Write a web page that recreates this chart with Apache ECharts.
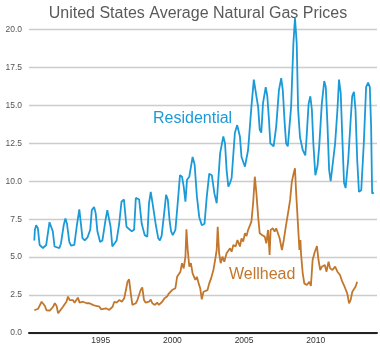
<!DOCTYPE html>
<html>
<head>
<meta charset="utf-8">
<script src="https://cdn.jsdelivr.net/npm/echarts@6/dist/echarts.min.js"></script>
<style>
  html, body { margin: 0; padding: 0; background: #ffffff; }
  #main { width: 380px; height: 350px; }
</style>
</head>
<body>
<div id="main"></div>
<script>
// [year, $ per thousand cubic feet]
const residential = [
  [1990.37, 6.1], [1990.41, 6.8], [1990.50, 7.1], [1990.62, 6.9], [1990.74, 5.8], [1990.97, 5.6],
  [1991.20, 5.8], [1991.43, 7.3], [1991.54, 7.4], [1991.66, 6.7], [1991.78, 5.7], [1991.89, 5.6],
  [1992.12, 5.6], [1992.23, 5.9], [1992.42, 7.1], [1992.54, 7.55], [1992.65, 7.2], [1992.81, 6.0], [1992.93, 5.75],
  [1993.16, 5.8], [1993.34, 7.1], [1993.51, 8.15], [1993.62, 8.1], [1993.73, 6.25], [1993.89, 6.1],
  [1994.08, 6.3], [1994.27, 6.8], [1994.38, 8.1], [1994.54, 8.3], [1994.65, 7.9], [1994.77, 6.7], [1994.96, 6.0],
  [1995.12, 6.1], [1995.33, 7.4], [1995.46, 8.1], [1995.58, 8.15], [1995.69, 7.0], [1995.81, 5.7], [1995.93, 5.6],
  [1996.11, 6.1], [1996.29, 7.2], [1996.45, 8.65], [1996.62, 8.8], [1996.80, 7.0], [1996.98, 6.85],
  [1997.17, 6.7], [1997.33, 6.8], [1997.45, 8.9], [1997.57, 9.0], [1997.68, 8.8], [1997.86, 7.2],
  [1998.07, 6.45], [1998.25, 6.35], [1998.37, 8.55], [1998.49, 9.3], [1998.60, 8.65], [1998.83, 7.2],
  [1999.01, 6.25], [1999.13, 6.1], [1999.25, 6.4], [1999.45, 8.1], [1999.56, 9.1], [1999.68, 8.8], [1999.80, 7.45], [1999.91, 6.7],
  [2000.03, 6.45], [2000.21, 6.8], [2000.37, 8.55], [2000.53, 10.4], [2000.67, 10.3], [2000.79, 9.65], [2000.91, 8.65],
  [2001.02, 10.1], [2001.18, 10.3], [2001.41, 11.6], [2001.55, 11.1], [2001.71, 9.0], [2001.87, 7.65],
  [2002.05, 7.1], [2002.24, 7.2], [2002.40, 9.0], [2002.57, 10.5], [2002.75, 10.4], [2002.93, 9.2],
  [2003.09, 8.55], [2003.33, 11.85], [2003.55, 12.95], [2003.67, 12.5], [2003.78, 10.75], [2003.90, 9.65],
  [2004.02, 9.9], [2004.13, 10.2], [2004.36, 13.2], [2004.52, 13.7], [2004.71, 12.95], [2004.82, 11.6],
  [2005.06, 10.96], [2005.17, 10.96], [2005.28, 12.06], [2005.51, 14.9], [2005.68, 16.7], [2005.86, 15.6], [2005.98, 14.9],
  [2006.09, 13.4], [2006.20, 13.2], [2006.32, 15.15], [2006.51, 16.2], [2006.62, 15.6], [2006.74, 14.0], [2006.83, 12.5], [2006.96, 12.6],
  [2007.06, 12.3], [2007.24, 13.6], [2007.43, 16.0], [2007.59, 16.8], [2007.70, 16.0], [2007.82, 14.0], [2007.93, 12.5],
  [2008.05, 12.3], [2008.28, 14.9], [2008.44, 19.1], [2008.55, 20.75], [2008.67, 19.1], [2008.77, 14.7], [2008.90, 12.9],
  [2009.09, 12.06], [2009.27, 11.7], [2009.36, 12.9], [2009.50, 15.1], [2009.62, 15.6], [2009.73, 14.7], [2009.83, 12.5], [2009.97, 10.4],
  [2010.12, 11.0], [2010.24, 12.3], [2010.42, 15.1], [2010.59, 16.6], [2010.70, 16.2], [2010.82, 13.6], [2010.93, 10.75],
  [2011.04, 10.0], [2011.16, 10.1], [2011.35, 12.5], [2011.51, 14.7], [2011.62, 16.7], [2011.74, 15.8], [2011.85, 12.9], [2011.97, 9.9],
  [2012.08, 9.55], [2012.27, 11.5], [2012.43, 14.0], [2012.54, 15.6], [2012.66, 15.9], [2012.77, 14.7], [2012.89, 11.4],
  [2013.01, 9.3], [2013.17, 9.4], [2013.35, 12.5], [2013.51, 16.2], [2013.65, 16.5], [2013.77, 16.2], [2013.86, 13.6], [2013.93, 9.2],
  [2014.05, 9.25]
];

const wellhead = [
  [1990.37, 1.5], [1990.64, 1.6], [1990.88, 2.06], [1990.99, 2.06], [1991.11, 1.78], [1991.22, 1.5],
  [1991.45, 1.47], [1991.68, 1.73], [1991.80, 1.96], [1991.92, 1.8], [1992.03, 1.3], [1992.14, 1.4],
  [1992.37, 1.73], [1992.49, 1.73], [1992.61, 2.06], [1992.72, 2.4], [1992.84, 2.17], [1992.95, 2.06],
  [1993.06, 2.17], [1993.18, 2.0], [1993.30, 2.17], [1993.41, 2.33], [1993.53, 2.0], [1993.64, 2.1],
  [1993.76, 2.06], [1993.87, 2.17], [1994.03, 1.96], [1994.22, 1.96], [1994.45, 1.85], [1994.68, 1.78],
  [1994.91, 1.73], [1995.03, 1.56], [1995.14, 1.52], [1995.37, 1.63], [1995.60, 1.52], [1995.83, 1.73],
  [1995.95, 2.06], [1996.11, 2.0], [1996.29, 2.17], [1996.48, 2.06], [1996.64, 2.29], [1996.76, 2.83],
  [1996.87, 3.38], [1996.98, 3.54], [1997.10, 2.6], [1997.21, 1.85], [1997.45, 1.96], [1997.56, 2.17],
  [1997.68, 2.29], [1997.79, 2.83], [1997.90, 3.0], [1998.02, 2.17], [1998.14, 2.0], [1998.37, 2.06],
  [1998.49, 2.2], [1998.60, 1.96], [1998.78, 1.85], [1998.94, 2.0], [1999.06, 1.85], [1999.18, 1.73],
  [1999.29, 2.06], [1999.45, 2.29], [1999.63, 2.4], [1999.75, 2.6], [1999.87, 2.5], [1999.98, 2.83],
  [2000.10, 2.7], [2000.21, 2.95], [2000.33, 3.7], [2000.44, 3.83], [2000.56, 4.04], [2000.67, 4.6],
  [2000.79, 4.26], [2000.91, 5.03], [2000.98, 6.84], [2001.07, 5.47], [2001.18, 4.37], [2001.29, 4.6],
  [2001.41, 3.93], [2001.60, 3.5], [2001.71, 3.7], [2001.83, 3.27], [2001.94, 2.95], [2002.05, 2.22],
  [2002.17, 2.72], [2002.29, 2.83], [2002.45, 2.83], [2002.57, 3.27], [2002.70, 3.6], [2002.86, 4.15],
  [2002.98, 4.8], [2003.09, 5.47], [2003.16, 7.0], [2003.26, 5.25], [2003.37, 4.6], [2003.49, 5.03],
  [2003.62, 4.7], [2003.78, 5.25], [2003.90, 5.14], [2004.02, 5.58], [2004.13, 5.36], [2004.25, 5.8],
  [2004.41, 5.7], [2004.54, 6.13], [2004.71, 5.7], [2004.82, 6.24], [2004.94, 6.02], [2005.06, 6.57],
  [2005.17, 6.39], [2005.28, 6.79], [2005.40, 6.68], [2005.51, 7.34], [2005.63, 8.55], [2005.75, 10.3],
  [2005.86, 9.2], [2005.98, 7.67], [2006.09, 6.57], [2006.25, 6.46], [2006.44, 6.35], [2006.55, 5.91],
  [2006.67, 6.79], [2006.78, 5.14], [2006.85, 6.79], [2007.01, 6.9], [2007.13, 6.68], [2007.24, 6.9],
  [2007.32, 6.79], [2007.48, 6.24], [2007.64, 5.47], [2007.77, 6.13], [2007.93, 7.12], [2008.10, 8.1],
  [2008.21, 8.77], [2008.33, 9.97], [2008.46, 10.53], [2008.55, 10.86], [2008.62, 9.43], [2008.74, 7.45],
  [2008.86, 5.47], [2008.93, 6.13], [2008.97, 5.25], [2009.09, 3.93], [2009.20, 3.27], [2009.38, 3.16],
  [2009.55, 3.38], [2009.66, 3.1], [2009.78, 4.81], [2009.92, 5.3], [2010.08, 5.73], [2010.19, 4.81],
  [2010.31, 4.15], [2010.42, 4.37], [2010.63, 4.48], [2010.75, 4.04], [2010.89, 4.7], [2011.00, 4.26],
  [2011.16, 4.15], [2011.35, 4.37], [2011.51, 4.04], [2011.69, 3.82], [2011.85, 3.38], [2012.01, 3.05],
  [2012.20, 2.6], [2012.32, 1.96], [2012.43, 2.17], [2012.55, 2.72], [2012.66, 2.83], [2012.77, 3.05],
  [2012.89, 3.38]
];

const yearTicks = [1995, 2000, 2005, 2010];

const chart = echarts.init(document.getElementById('main'), null, { renderer: 'canvas' });

const option = {
  backgroundColor: '#ffffff',
  animation: false,
  title: {
    text: 'United States Average Natural Gas Prices',
    left: 193,
    textAlign: 'center',
    top: 1,
    textStyle: {
      fontFamily: 'Liberation Sans',
      fontSize: 16,
      fontWeight: 'normal',
      color: '#5a5a5a'
    }
  },
  grid: { left: 29, right: 0, top: 29.5, bottom: 17 },
  xAxis: {
    type: 'value',
    min: 1990,
    max: 2014.27,
    interval: 5,
    axisLine: { show: true, lineStyle: { color: '#222222', width: 2 } },
    axisTick: { show: false },
    splitLine: { show: false },
    axisLabel: {
      margin: 3,
      fontFamily: 'Liberation Sans',
      fontSize: 8.5,
      color: '#333333',
      // only the labelled years from the picture
      formatter: v => (yearTicks.includes(v) ? String(v) : '')
    }
  },
  yAxis: {
    type: 'value',
    min: 0,
    max: 20,
    interval: 2.5,
    axisLine: { show: false },
    axisTick: { show: false },
    splitLine: { lineStyle: { color: '#cccccc', width: 1.3 } },
    axisLabel: {
      margin: 7,
      fontFamily: 'Liberation Sans',
      fontSize: 8.5,
      color: '#555555',
      formatter: v => v.toFixed(1)
    }
  },
  series: [
    {
      name: 'Residential',
      type: 'line',
      data: residential,
      showSymbol: false,
      clip: false,
      lineStyle: { color: '#1b9ad8', width: 1.8 }
    },
    {
      name: 'Wellhead',
      type: 'line',
      data: wellhead,
      showSymbol: false,
      lineStyle: { color: '#c2772c', width: 1.8 }
    }
  ],
  graphic: [
    {
      type: 'text',
      left: 153,
      top: 111,
      style: {
        text: 'Residential',
        fill: '#1b9ad8',
        font: '16px "Liberation Sans"'
      }
    },
    {
      type: 'text',
      left: 229,
      top: 267,
      style: {
        text: 'Wellhead',
        fill: '#c2772c',
        font: '16px "Liberation Sans"'
      }
    }
  ]
};

chart.setOption(option);
</script>
</body>
</html>
